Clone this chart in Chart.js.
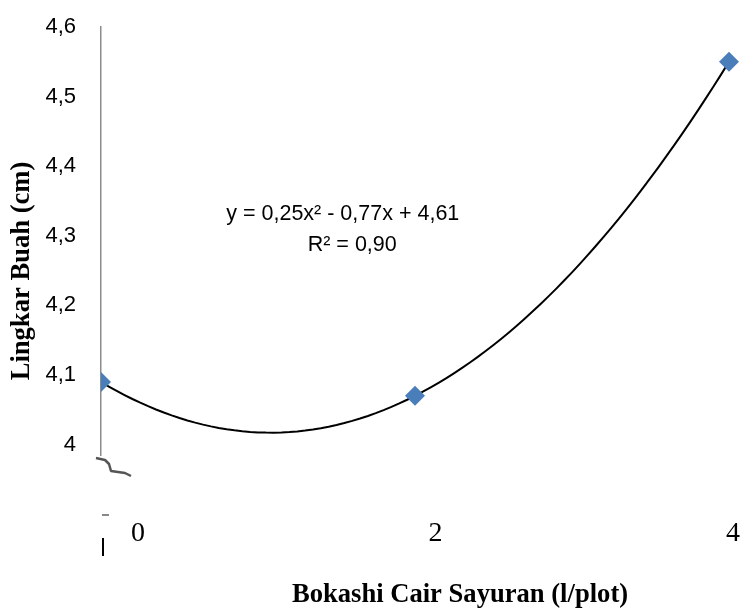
<!DOCTYPE html>
<html>
<head>
<meta charset="utf-8">
<script src="https://cdn.jsdelivr.net/npm/chart.js@4.4.1/dist/chart.umd.min.js"></script>
<style>
  html, body { margin: 0; padding: 0; background: #fff; }
  #wrap { width: 740px; height: 610px; position: relative; }
</style>
</head>
<body>
<div id="wrap"><canvas id="js-chart-lingkar"></canvas></div>
<script>
// dosis bokashi (l/plot) dan lingkar buah (cm)
const doses = [0, 2, 4];
const girth = [4.09, 4.07, 4.55];
const yTicks = [4, 4.1, 4.2, 4.3, 4.4, 4.5, 4.6];
const yTickLabels = ["4", "4,1", "4,2", "4,3", "4,4", "4,5", "4,6"];
const xTicks = [0, 2, 4];
const xTickLabels = ["0", "2", "4"];
const eqLines = ["y = 0,25x\u00B2 - 0,77x + 4,61", "R\u00B2 = 0,90"];
const xTitle = "Bokashi Cair Sayuran (l/plot)";
const yTitle = "Lingkar Buah (cm)";

// polynomial trendline (order 2), least squares on the series
function polyFit(xs, ys) {
    let n = xs.length, s = [0, 0, 0, 0, 0], t = [0, 0, 0];
    for (let i = 0; i < n; i++) {
        let p = 1;
        for (let k = 0; k < 5; k++) { s[k] += p; if (k < 3) t[k] += p * ys[i]; p *= xs[i]; }
    }
    let m = [[s[0], s[1], s[2], t[0]], [s[1], s[2], s[3], t[1]], [s[2], s[3], s[4], t[2]]];
    for (let c = 0; c < 3; c++) {
        for (let r = c + 1; r < 3; r++) {
            let f = m[r][c] / m[c][c];
            for (let k = c; k < 4; k++) m[r][k] -= f * m[c][k];
        }
    }
    let a = [0, 0, 0];
    for (let r = 2; r >= 0; r--) {
        let v = m[r][3];
        for (let k = r + 1; k < 3; k++) v -= m[r][k] * a[k];
        a[r] = v / m[r][r];
    }
    return a;
}
const coef = polyFit(doses, girth);
const trend = [];
for (let i = 0; i <= 80; i++) {
    let x = doses[0] + (doses[doses.length - 1] - doses[0]) * i / 80;
    trend.push({ x: x, y: coef[0] + coef[1] * x + coef[2] * x * x });
}

const serif = "'Liberation Serif', 'Times New Roman', serif";
const sans = "'Liberation Sans', Arial, sans-serif";

// equation label, axis titles and the axis-break marks of the original figure
const textPlugin = {
    id: "figText",
    afterDatasetsDraw(chart) {
        const ctx = chart.ctx, xs = chart.scales.x, ys = chart.scales.y;
        const ax = chart.chartArea.left, ab = chart.chartArea.bottom;
        ctx.save();
        // axis break
        ctx.strokeStyle = "#555";
        ctx.lineWidth = 2.5;
        ctx.lineJoin = "round";
        ctx.beginPath();
        ctx.moveTo(ax - 5, ab + 3);
        ctx.lineTo(ax + 4, ab + 5);
        ctx.lineTo(ax + 8, ab + 9);
        ctx.lineTo(ax + 10, ab + 16);
        ctx.lineTo(ax + 24, ab + 18);
        ctx.lineTo(ax + 30, ab + 21);
        ctx.stroke();
        ctx.strokeStyle = "#888";
        ctx.lineWidth = 2;
        ctx.beginPath();
        ctx.moveTo(ax + 1, ab + 60);
        ctx.lineTo(ax + 8, ab + 60);
        ctx.stroke();
        ctx.strokeStyle = "#000";
        ctx.beginPath();
        ctx.moveTo(ax + 2, ab + 83);
        ctx.lineTo(ax + 2, ab + 101);
        ctx.stroke();

        ctx.fillStyle = "#000";
        ctx.textAlign = "center";
        ctx.textBaseline = "middle";
        ctx.font = "21.5px " + sans;
        ctx.fillText(eqLines[0], xs.getPixelForValue(1.54), ys.getPixelForValue(4.331));
        ctx.fillText(eqLines[1], xs.getPixelForValue(1.60), ys.getPixelForValue(4.286));
        ctx.font = "bold 26.6px " + serif;
        ctx.fillText(xTitle, 460, 595);
        ctx.translate(22, 271);
        ctx.rotate(-Math.PI / 2);
        ctx.fillText(yTitle, 0, 0);
        ctx.restore();
    }
};

let el = document.getElementById("js-chart-lingkar");
new Chart(el, {
    type: "scatter",
    data: {
        datasets: [{
            label: "Lingkar Buah",
            data: doses.map((d, i) => ({ x: d, y: girth[i] })),
            pointStyle: "rectRot",
            pointRadius: 10,
            pointHoverRadius: 10,
            pointBackgroundColor: "#4a7ebb",
            pointBorderColor: "#4a7ebb",
            pointBorderWidth: 0,
            order: 1
        }, {
            label: "Poly.",
            type: "line",
            data: trend,
            borderColor: "#000",
            borderWidth: 2,
            pointRadius: 0,
            tension: 0,
            fill: false,
            order: 2
        }]
    },
    options: {
        responsive: true,
        maintainAspectRatio: false,
        animation: false,
        layout: { autoPadding: false, padding: { top: 27, right: 0, bottom: 0, left: 0 } },
        plugins: { legend: { display: false }, tooltip: { enabled: false } },
        scales: {
            x: {
                type: "linear",
                display: false,
                min: 0,
                max: 4.07
            },
            x2: {
                type: "linear",
                position: "bottom",
                min: -0.2487,
                max: 4.047,
                grid: { display: false, drawTicks: false },
                border: { display: false },
                afterBuildTicks: s => { s.ticks = xTicks.map(v => ({ value: v })); },
                afterFit: s => { s.height = 155; s.paddingLeft = 0; s.paddingRight = 0; },
                ticks: {
                    padding: 62,
                    maxRotation: 0,
                    color: "#000",
                    font: { family: serif, size: 28 },
                    callback: (v) => xTickLabels[xTicks.indexOf(v)]
                }
            },
            y: {
                min: 3.985,
                max: 4.6,
                grid: { display: false, drawTicks: false },
                border: { display: true, color: "#8c8c8c", width: 1.5 },
                afterBuildTicks: s => { s.ticks = yTicks.map(v => ({ value: v })); },
                afterFit: s => { s.width = 101; s.paddingTop = 0; s.paddingBottom = 0; },
                ticks: {
                    padding: 25,
                    color: "#000",
                    font: { family: sans, size: 22 },
                    callback: (v) => yTickLabels[yTicks.indexOf(v)]
                }
            }
        }
    },
    plugins: [textPlugin]
});
</script>
</body>
</html>
